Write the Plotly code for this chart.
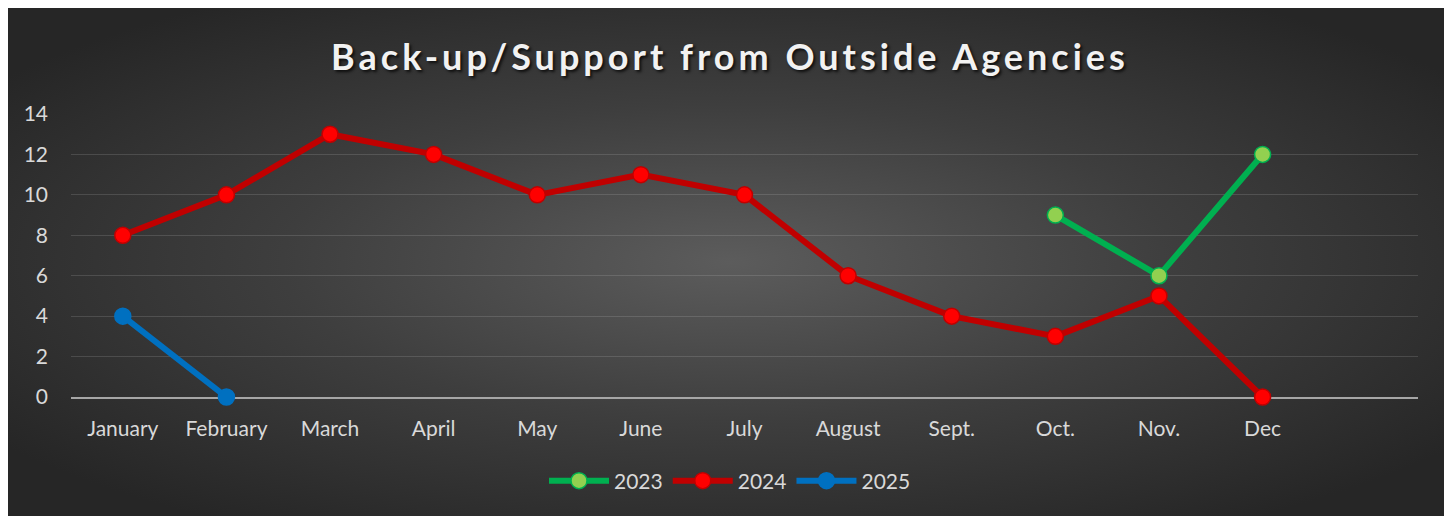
import base64
import plotly.graph_objects as go

# ---- data ----
months = ["January", "February", "March", "April", "May", "June", "July",
          "August", "Sept.", "Oct.", "Nov.", "Dec"]
s2023_months = ["Oct.", "Nov.", "Dec"]
s2023_values = [9, 6, 12]
s2024_months = months
s2024_values = [8, 10, 13, 12, 10, 11, 10, 6, 4, 3, 5, 0]
s2025_months = ["January", "February"]
s2025_values = [4, 0]
y_ticks = [0, 2, 4, 6, 8, 10, 12, 14]

W, H = 1444, 508
L, R, T, B = 63, 34, 106, 119
pw, ph = W - L - R, H - T - B

idx = {m: i for i, m in enumerate(months)}
FONT = "Lato, 'Open Sans', sans-serif"

fig = go.Figure()

def add_series(name, mlist, vals, line_col, fill_col, edge_col):
    fig.add_trace(go.Scatter(
        x=[idx[m] for m in mlist], y=vals, name=name, mode="lines+markers",
        line=dict(color=line_col, width=6),
        marker=dict(size=16, color=fill_col, line=dict(color=edge_col, width=1.5)),
        cliponaxis=False,
    ))

add_series("2023", s2023_months, s2023_values, "#00b050", "#92d050", "#00b050")
add_series("2024", s2024_months, s2024_values, "#c00000", "#ff0000", "#c00000")
add_series("2025", s2025_months, s2025_values, "#0070c0", "#0070c0", "#0070c0")

# radial gradient background (as an svg image covering the whole figure)
svg = f'''<svg xmlns="http://www.w3.org/2000/svg" width="{W}" height="{H}" viewBox="0 0 {W} {H}" preserveAspectRatio="none">
<defs><radialGradient id="g" cx="0.5" cy="0.5" r="0.62">
<stop offset="0" stop-color="#5c5c5c"/>
<stop offset="0.5" stop-color="#3e3e3e"/>
<stop offset="1" stop-color="#262626"/>
</radialGradient></defs>
<rect x="0" y="0" width="{W}" height="{H}" fill="url(#g)"/></svg>'''
uri = "data:image/svg+xml;base64," + base64.b64encode(svg.encode()).decode()

fig.add_layout_image(dict(
    source=uri, xref="paper", yref="paper",
    x=-L / pw, y=(H - B) / ph,
    sizex=W / pw, sizey=H / ph,
    xanchor="left", yanchor="top", sizing="stretch", layer="below",
))

fig.update_layout(
    width=W, height=H,
    margin=dict(l=L, r=R, t=T, b=B),
    paper_bgcolor="#2a2a2a", plot_bgcolor="rgba(0,0,0,0)",
    title=dict(
        text='<span style="letter-spacing:4px"><b>Back-up/Support from Outside Agencies</b></span>',
        x=0.5, xanchor="center", xref="container",
        y=1 - 49 / H, yanchor="middle", yref="container",
        font=dict(family=FONT, size=36, color="#f2f2f2",
                  shadow="2px 2px 3px rgba(0,0,0,0.75)"),
    ),
    showlegend=True,
    legend=dict(
        orientation="h", x=(730 - 8 - L) / pw, xanchor="center", xref="paper",
        y=(H - B - 473) / ph, yanchor="middle",
        font=dict(family=FONT, size=21, color="#d9d9d9"),
        bgcolor="rgba(0,0,0,0)", itemwidth=60,
    ),
    xaxis=dict(
        range=[-0.5, 12.5], tickvals=list(range(len(months))), ticktext=months,
        showgrid=False, zeroline=False, showline=True, linecolor="#a6a6a6",
        linewidth=2, ticks="", ticklabelstandoff=12, layer="below traces",
        tickfont=dict(family=FONT, size=21, color="#d9d9d9"), fixedrange=True,
    ),
    yaxis=dict(
        range=[0, 14], tickvals=y_ticks, showgrid=True,
        gridcolor="rgba(217,217,217,0.16)", gridwidth=1, zeroline=False,
        showline=False, ticks="", ticklabelstandoff=22, layer="below traces",
        tickfont=dict(family=FONT, size=21, color="#d9d9d9"), fixedrange=True,
    ),
)

fig.write_html("out.html")
